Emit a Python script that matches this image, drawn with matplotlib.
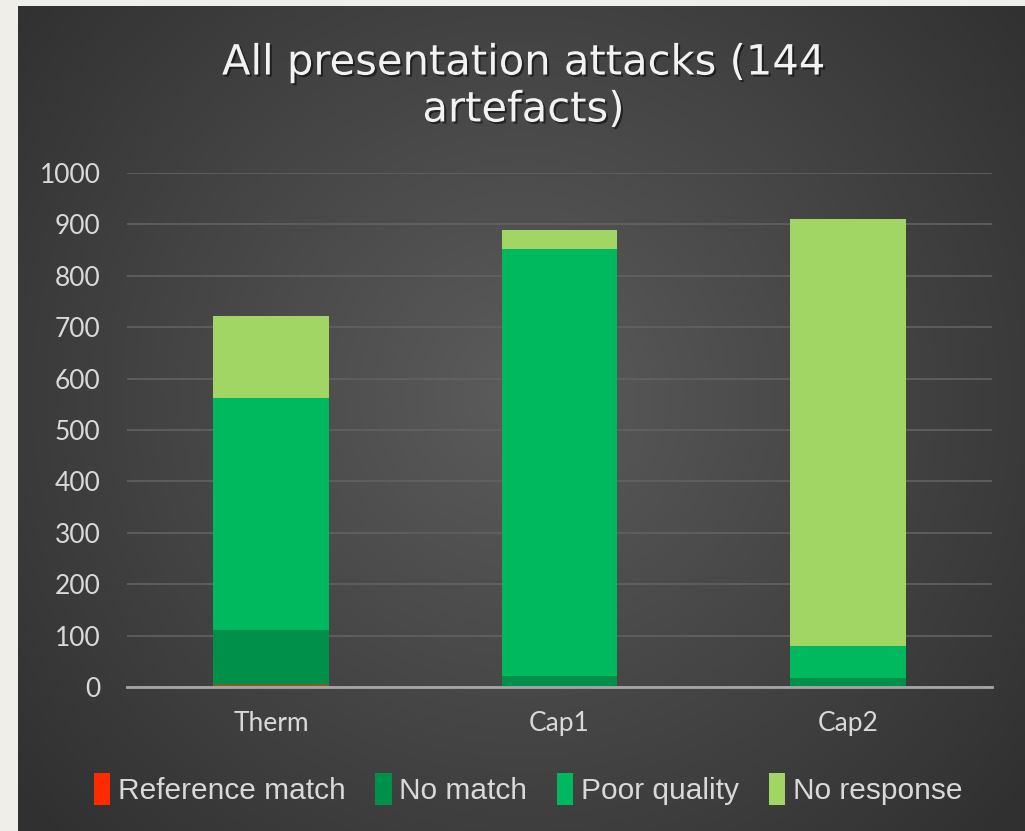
import matplotlib
matplotlib.use("Agg")
import matplotlib.pyplot as plt
import matplotlib.patheffects as pe
import numpy as np

# data
categories = ["Therm", "Cap1", "Cap2"]
series = ["Reference match", "No match", "Poor quality", "No response"]
ref_match = [3, 0, 0]
no_match = [108, 21, 18]
poor_quality = [451, 831, 62]
no_response = [160, 37, 830]
yticks = list(range(0, 1001, 100))

COLORS = ["#FF2A00", "#00904A", "#00B95F", "#A2D664"]
TXT = "#D9D9D9"
W, H, DPI = 1025, 831, 100

fig = plt.figure(figsize=(W / DPI, H / DPI), dpi=DPI)
fig.patch.set_facecolor("#EFEEE9")

# dark panel with a soft radial gradient
bg = fig.add_axes([18 / W, 0, 1 - 18 / W, 1 - 6 / H])
bg.set_axis_off()
yy, xx = np.mgrid[0:1:300j, 0:1:380j]
r = np.sqrt(((xx - 0.5) * 1.2) ** 2 + (yy - 0.47) ** 2)
shade = np.clip(0.36 - 0.22 * r, 0.19, 0.36)
bg.imshow(np.dstack([shade] * 3), aspect="auto", extent=[0, 1, 0, 1], interpolation="bilinear")

ax = fig.add_axes([127 / W, 1 - 687 / H, (992 - 127) / W, (687 - 173) / H])
ax.set_facecolor("none")
x = np.arange(len(categories))
stacks = [ref_match, no_match, poor_quality, no_response]
totals = np.sum(stacks, axis=0)

# soft shadow round each whole bar
ax.bar(x, totals, 0.4, color="black", alpha=0.25, zorder=2,
       path_effects=[pe.SimplePatchShadow(offset=(0, 0), shadow_rgbFace="black", alpha=0.3)])

bottom = np.zeros(len(categories))
handles = []
for name, vals, col in zip(series, stacks, COLORS):
    b = ax.bar(x, vals, 0.4, bottom=bottom, color=col, label=name, zorder=3, linewidth=0)
    bottom += np.array(vals)
    handles.append(b)

ax.set_xlim(-0.5, len(categories) - 0.5)
ax.set_ylim(0, 1000)
ax.set_yticks(yticks)
ax.set_yticklabels([str(t) for t in yticks], fontsize=19, color=TXT, family="Lato")
ax.set_xticks(x)
ax.set_xticklabels(categories, fontsize=19, color=TXT, family="Lato")
ax.tick_params(axis="y", length=0, pad=19)
ax.tick_params(axis="x", length=0, pad=17)
ax.yaxis.grid(True, color="#626262", linewidth=1.2, zorder=0)
for sp in ["top", "right", "left"]:
    ax.spines[sp].set_visible(False)
ax.spines["bottom"].set_color("#A6A6A6")
ax.spines["bottom"].set_linewidth(2)
ax.spines["bottom"].set_zorder(4)

fig.text(523.5 / W, 1 - 86 / H, "All presentation attacks (144\nartefacts)", ha="center", va="center",
         fontsize=30, color="#F2F2F2", family="DejaVu Sans", linespacing=1.15,
         path_effects=[pe.withSimplePatchShadow(offset=(1.5, -1.5), shadow_rgbFace="black", alpha=0.5)])

leg = fig.legend(handles, series, loc="center", bbox_to_anchor=(528 / W, 1 - 789 / H), ncol=4,
                 frameon=False, handlelength=0.55, handleheight=1.3,
                 handletextpad=0.25, columnspacing=1.0, prop={"family": "Liberation Sans", "size": 21.5})
for t in leg.get_texts():
    t.set_color(TXT)

fig.savefig("out.png", dpi=DPI, facecolor=fig.get_facecolor())
